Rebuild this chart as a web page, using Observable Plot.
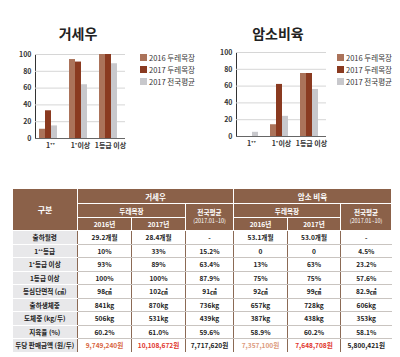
<!DOCTYPE html>
<html><head><meta charset="utf-8">
<script src="https://cdn.jsdelivr.net/npm/d3@7"></script>
<script src="https://cdn.jsdelivr.net/npm/@observablehq/plot@0.6"></script>
<style>
html,body{margin:0;padding:0;background:#fff;width:400px;height:357px;overflow:hidden;font-family:"Noto Sans CJK KR","Noto Sans",sans-serif;}
.title{font-weight:700;font-size:14px;color:#222;transform:translate(-50%,-50%);white-space:nowrap;}
.legend div{display:flex;align-items:center;height:12px;font-size:7.5px;color:#333;white-space:nowrap;}
.legend span.sw{display:inline-block;width:7px;height:7px;margin-right:2px;}
table{border-collapse:collapse;table-layout:fixed;font-size:6.6px;font-weight:700;color:#222;}
th{background:#8b6149;color:#fff;font-weight:700;border:1px solid #fff;padding:0;text-align:center;}
td{text-align:center;padding:0;height:12.5px;border-bottom:1px solid #c9c4c0;border-left:1px solid #8b6a55;white-space:nowrap;}
td.lab{background:#e8e8ea;border-bottom:1px solid #fff;border-left:none;}
tr.last td{border-bottom:none;}
</style>
</head><body>
<div id="root" style="position:relative;width:400px;height:357px;"></div>
<script>
const categories = ["1⁺⁺", "1⁺이상", "1등급 이상"];
const series = ["2016 두레목장", "2017 두레목장", "2017 전국평균"];
const colors = ["#ab735a", "#8a3a20", "#c8c8cc"];
const yTicks = [0, 20, 40, 60, 80, 100];
// 거세우
const steer2016 = [11, 94, 100];
const steer2017 = [33, 91, 100];
const steerNational = [15, 64, 89];
// 암소비육
const cow2016 = [0, 14, 75];
const cow2017 = [0, 62, 75];
const cowNational = [5, 24, 56];

const tableRowLabels = ["출하월령", "1⁺⁺등급", "1⁺등급 이상", "1등급 이상", "등심단면적 (㎠)", "출하생체중", "도체중 (kg/두)", "지육율 (%)", "두당 판매금액 (원/두)"];
const steerCol2016 = ["29.2개월", "10%", "93%", "100%", "98㎠", "841kg", "506kg", "60.2%", "9,749,240원"];
const steerCol2017 = ["28.4개월", "33%", "89%", "100%", "102㎠", "870kg", "531kg", "61.0%", "10,108,672원"];
const steerColNat = ["-", "15.2%", "63.4%", "87.9%", "91㎠", "736kg", "439kg", "59.6%", "7,717,620원"];
const cowCol2016 = ["53.1개월", "0", "13%", "75%", "92㎠", "657kg", "387kg", "58.9%", "7,357,100원"];
const cowCol2017 = ["53.0개월", "0", "63%", "75%", "99㎠", "728kg", "438kg", "60.2%", "7,648,708원"];
const cowColNat = ["-", "4.5%", "23.2%", "57.6%", "82.9㎠", "606kg", "353kg", "58.1%", "5,800,421원"];
const lastRowColors = ["#d8663f", "#e0352c", "#222", "#dc9a7c", "#e0352c", "#222"];

const root = document.getElementById("root");
const FONT = '"Noto Sans CJK KR","Noto Sans",sans-serif';

function place(el, left, top) {
  el.style.position = "absolute"; el.style.left = left + "px"; el.style.top = top + "px";
  root.appendChild(el); return el;
}

function barChart(vals) {
  const data = categories.flatMap((c, i) => series.map((s, j) => ({cat: c, series: s, value: vals[j][i]})));
  return Plot.plot({
    width: 130, height: 112, marginLeft: 35, marginRight: 5, marginTop: 10, marginBottom: 18,
    style: {fontSize: "7px", fontFamily: FONT, fontWeight: 700, color: "#333", background: "transparent"},
    fx: {domain: categories, padding: 0, label: null, axis: "bottom", tickSize: 0, tickPadding: 5},
    x: {domain: series, axis: null, paddingInner: 0, paddingOuter: 0.75, align: 0.3},
    y: {domain: [0, 100], ticks: yTicks, label: null, tickSize: 0, tickPadding: 4, line: true},
    color: {domain: series, range: colors},
    marks: [
      Plot.ruleY(yTicks.slice(1), {stroke: "#d6d6d6", strokeWidth: 1}),
      Plot.barY(data, {fx: "cat", x: "series", y: "value", fill: "series"}),
      Plot.ruleY([0], {stroke: "#666", strokeWidth: 1})
    ]
  });
}

function legend(left, top) {
  const d = document.createElement("div");
  d.className = "legend";
  series.forEach((s, i) => {
    const r = document.createElement("div");
    r.innerHTML = `<span class="sw" style="background:${colors[i]}"></span>${s}`;
    d.appendChild(r);
  });
  return place(d, left, top);
}

function title(text, cx, cy) {
  const t = document.createElement("div");
  t.className = "title"; t.textContent = text;
  place(t, cx, cy);
}

title("거세우", 78, 33);
title("암소비육", 278, 33);
place(barChart([steer2016, steer2017, steerNational]), 0, 44);
place(barChart([cow2016, cow2017, cowNational]), 201, 42);
legend(140, 51);
legend(337, 51);

// table
const tbl = document.createElement("table");
const widths = [65, 54, 54, 48, 54, 53, 51];
let html = "<colgroup>" + widths.map(w => `<col style="width:${w}px">`).join("") + "</colgroup>";
html += `<tr style="height:15px"><th rowspan="3" style="font-size:8px">구분</th><th colspan="3" style="font-size:7.5px">거세우</th><th colspan="3" style="font-size:7.5px">암소 비육</th></tr>`;
html += `<tr style="height:14px"><th colspan="2">두레목장</th><th rowspan="2" style="line-height:1.15">전국평균<br><span style="font-size:5.5px;font-weight:400">(2017.01~10)</span></th><th colspan="2">두레목장</th><th rowspan="2" style="line-height:1.15">전국평균<br><span style="font-size:5.5px;font-weight:400">(2017.01~10)</span></th></tr>`;
html += `<tr style="height:13px"><th>2016년</th><th>2017년</th><th>2016년</th><th>2017년</th></tr>`;
const cols = [steerCol2016, steerCol2017, steerColNat, cowCol2016, cowCol2017, cowColNat];
tableRowLabels.forEach((lab, r) => {
  const last = r === tableRowLabels.length - 1;
  html += `<tr${last ? ' class="last"' : ""}><td class="lab">${lab}</td>` +
    cols.map((c, k) => `<td style="${last ? "color:" + lastRowColors[k] : ""}">${c[r]}</td>`).join("") + "</tr>";
});
tbl.innerHTML = html;
tbl.style.width = widths.reduce((a, b) => a + b, 0) + "px";
place(tbl, 12, 188);
</script>
</body></html>
